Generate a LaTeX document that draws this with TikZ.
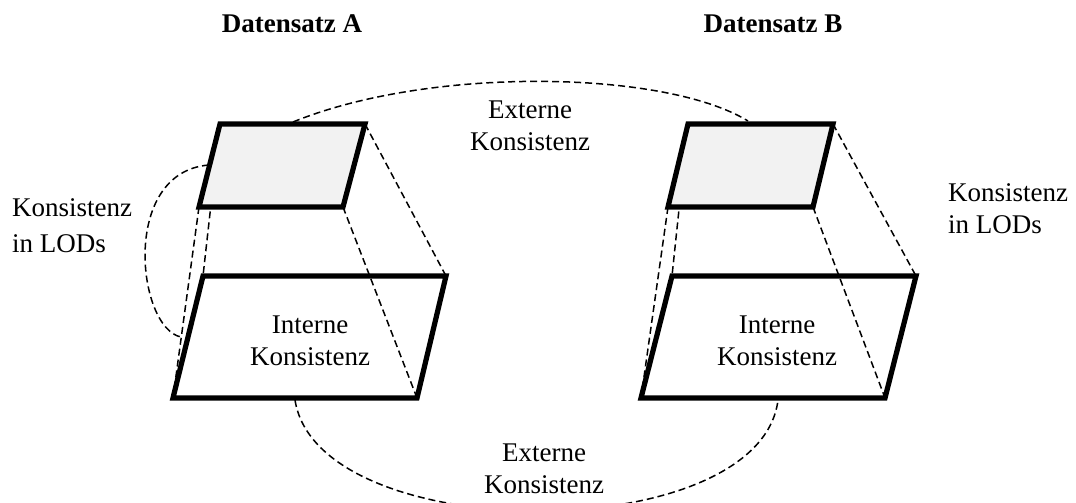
\documentclass[tikz,border=0pt]{standalone}
\usepackage{fontspec}
\setmainfont{Liberation Serif}
\definecolor{topgray}{RGB}{242,242,242}
\begin{document}
\begin{tikzpicture}[x=1pt,y=-1pt,
  frame/.style={line width=5.2pt,line join=miter},
  topface/.style={frame,fill=topgray},
  guide/.style={line width=1.5pt,dash pattern=on 7pt off 4pt},
  lbl/.style={font=\fontsize{27}{32}\selectfont,align=center,inner sep=0pt,anchor=base},
  head/.style={lbl,font=\fontsize{27}{32}\selectfont\bfseries}]
\useasboundingbox (0,0) rectangle (1076,503);

% corners of data set A (upper = coarse LOD, lower = fine LOD)
\coordinate (a1) at (220,124); \coordinate (a2) at (365,124);
\coordinate (a3) at (343,207); \coordinate (a4) at (199,207);
\coordinate (b1) at (203,276); \coordinate (b2) at (446,276);
\coordinate (b3) at (417,398); \coordinate (b4) at (173,398);
% corners of data set B
\coordinate (c1) at (688,124); \coordinate (c2) at (833,124);
\coordinate (c3) at (813,207); \coordinate (c4) at (668,207);
\coordinate (d1) at (672,276); \coordinate (d2) at (916,276);
\coordinate (d3) at (885,398); \coordinate (d4) at (641,398);

% end points of the consistency arcs
\coordinate (lodS) at (209,165); \coordinate (lodE) at (181,337);
\coordinate (topS) at (293,122); \coordinate (topE) at (748,121);
\coordinate (botS) at (295,400); \coordinate (botE) at (778,400);

% projection lines between the levels
\foreach \u/\l in {a1/b1,a2/b2,a3/b3,a4/b4,c1/d1,c2/d2,c3/d3,c4/d4}
  \draw[guide] (\u) -- (\l);

% consistency arcs
\draw[guide] (lodS) .. controls (120,172) and (137,328) .. (lodE);
\draw[guide] (topS) .. controls (430,66) and (665,70) .. (topE);
\draw[guide] (botS) .. controls (318,548) and (760,548) .. (botE);

% levels of detail
\draw[frame] (b1) -- (b2) -- (b3) -- (b4) -- cycle;
\draw[frame] (d1) -- (d2) -- (d3) -- (d4) -- cycle;
\draw[topface] (a1) -- (a2) -- (a3) -- (a4) -- cycle;
\draw[topface] (c1) -- (c2) -- (c3) -- (c4) -- cycle;

% labels (multi-line nodes sit on the baseline of their last line)
\node[head] (dsA) at (292,33) {Datensatz A};
\node[head] (dsB) at (773,33) {Datensatz B};
\node[lbl] (extTop) at (530,150) {Externe\\Konsistenz};
\node[lbl] (extBot) at (544,493) {Externe\\Konsistenz};
\node[lbl,align=left,anchor=base west] (lodA) at (12,252) {Konsistenz\\[4pt]in LODs};
\node[lbl,align=left,anchor=base west] (lodB) at (948,233) {Konsistenz\\in LODs};
\node[lbl] (intA) at (310,365) {Interne\\Konsistenz};
\node[lbl] (intB) at (777,365) {Interne\\Konsistenz};
\end{tikzpicture}
\end{document}
